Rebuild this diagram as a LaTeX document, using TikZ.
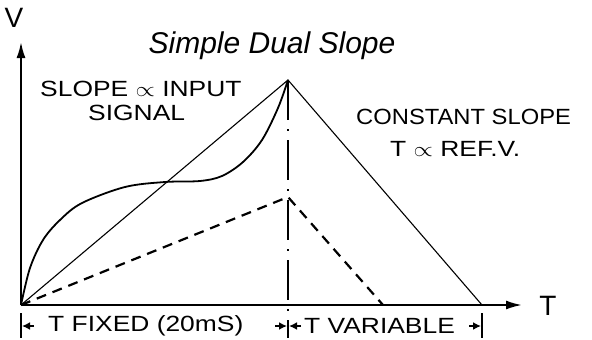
\documentclass[tikz,border=0pt]{standalone}
\usepackage{fontspec}
\setmainfont{Liberation Sans}
\usetikzlibrary{arrows.meta,positioning}
\begin{document}
\begin{tikzpicture}[
        x=1pt, y=-1pt,
        axis/.style={draw, line width=2pt, -{Latex[length=16pt,width=9pt]}},
        thinline/.style={draw, line width=1.1pt},
        curveline/.style={draw, line width=1.8pt, line join=round},
        dashline/.style={draw, line width=2.2pt, dash pattern=on 10pt off 7pt},
        splitline/.style={draw, line width=1.6pt, dash pattern=on 40pt off 9pt on 2pt off 9pt},
        tickline/.style={draw, line width=1.6pt},
        hand/.style={font=\fontsize{22}{24}\selectfont, xscale=1.2, inner sep=0pt},
        dimarrow/.style={draw, line width=1.6pt, -{Latex[length=8pt,width=8pt]}},
    ]
    \useasboundingbox (0,0) rectangle (592,340);
    % points of the graph
    \coordinate (O) at (21,305);
    \coordinate (vtip) at (21,42);
    \coordinate (ttip) at (522,305);
    \coordinate (P) at (288,80);
    \coordinate (E) at (482,305);
    \coordinate (M) at (288,197);
    \coordinate (F) at (383,305);
    \coordinate (split) at (288,338);
    \coordinate (lt) at (21,338);
    \coordinate (rt) at (482,338);
    % axes
    \draw[axis] (O) -- (vtip);
    \draw[axis] (O) -- (ttip);
    \node[font=\fontsize{28}{28}\selectfont] (V) at (14,18) {V};
    \node[font=\fontsize{28}{28}\selectfont] (T) at (548,306) {T};
    % title
    \node[font=\itshape\fontsize{30}{30}\selectfont] (title) at (272,46) {Simple Dual Slope};
    % ramps
    \draw[thinline] (O) -- (P) -- (E);
    \draw[dashline] (O) -- (M) -- (F);
    \draw[curveline] plot[smooth, tension=0.55] coordinates {(O) (30,268) (43,240) (60,220) (82,203) (125,187) (165,182) (200,181) (222,176) (243,162) (262,140) (278,108) (P)};
    \draw[splitline] (P) -- (split);
    \draw[tickline] (O |- 0,313) -- (lt);
    \draw[tickline] (E |- 0,313) -- (rt);
    % labels
    \node[hand, anchor=west] (slope) at (40,89) {SLOPE $\propto$ INPUT};
    \node[hand, anchor=west] (signal) at (88,113) {SIGNAL};
    \node[hand, anchor=west, xscale=0.9] (const) at (356,117) {CONSTANT SLOPE};
    \node[hand, anchor=west] (ref) at (390,149) {T $\propto$ REF.V.};
    \node[hand, anchor=west] (fixed) at (48,326) {T FIXED (20mS)};
    \node[hand, anchor=west] (var) at (304,326) {T VARIABLE};
    % dimension arrows
    \draw[dimarrow] (34,326) -- (22,326);
    \draw[dimarrow] (275,326) -- (287,326);
    \draw[dimarrow] (301,326) -- (289,326);
    \draw[dimarrow] (469,326) -- (481,326);
\end{tikzpicture}
\end{document}
